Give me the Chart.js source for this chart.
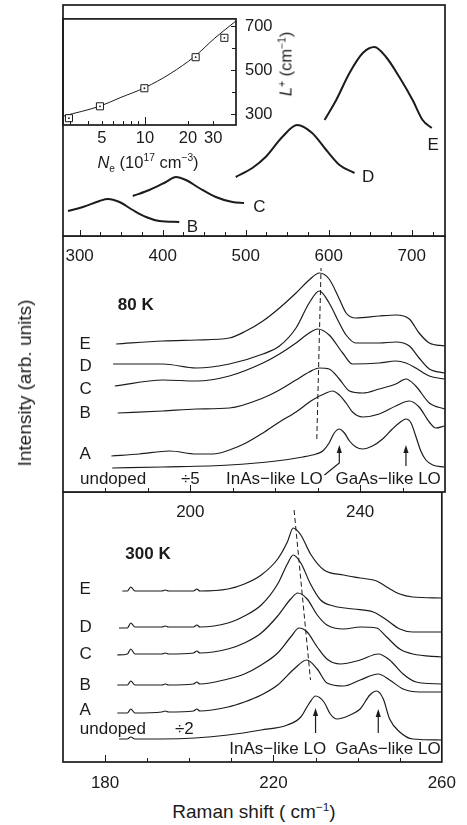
<!DOCTYPE html>
<html>
<head>
<meta charset="utf-8">
<script src="https://cdn.jsdelivr.net/npm/chart.js@4.4.1/dist/chart.umd.min.js"></script>
<style>
  html, body { margin: 0; padding: 0; background: #fff; }
  #fig { position: relative; width: 467px; height: 825px; overflow: hidden;
         font-family: "Liberation Sans", Arial, Helvetica, sans-serif; color: #1c1c1c; }
  #fig canvas { position: absolute; left: 0; }
  .lbl { position: absolute; white-space: nowrap; transform: translate(-50%, -50%); }
  .rot { transform: translate(-50%, -50%) rotate(-90deg); }
  sup, sub { font-size: 62%; line-height: 0; }
</style>
</head>
<body>
<div id="fig">
  <canvas id="topChart" width="467" height="270" style="top:0"></canvas>
  <canvas id="insetChart" width="467" height="170" style="top:0"></canvas>
  <canvas id="midChart" width="467" height="290" style="top:236px"></canvas>
  <canvas id="lowChart" width="467" height="300" style="top:492px"></canvas>
  <div class="lbl rot" style="left:25px; top:383px; font-size:19px;">Intensity (arb. units)</div>
  <div class="lbl" style="left:254px; top:812px; font-size:19px;">Raman shift ( cm<sup>−1</sup>)</div>
  <div class="lbl" style="left:148px; top:162px; font-size:16.5px;"><i>N</i><sub>e</sub> (10<sup>17</sup> cm<sup>−3</sup>)</div>
  <div class="lbl rot" style="left:286px; top:64px; font-size:16.5px;"><i>L</i><sup>+</sup> (cm<sup>−1</sup>)</div>
</div>
<script>
/* ---------- DATA ---------- */
// top panel: L+ coupled-mode bands (cm-1 vs arb. intensity)
const topTickLabels = [300, 400, 500, 600, 700];
const topShiftB = [286, 304, 324, 334, 348, 364, 380, 396, 420];
const topIntB = [25, 29, 35, 37, 34, 26, 19, 15, 14];
const topShiftC = [364, 384, 404, 416, 428, 444, 464, 484, 498];
const topIntC = [40, 46, 54, 59, 56, 48, 39, 34, 33];
const topShiftD = [488, 508, 524, 544, 562, 580, 597, 613, 631];
const topIntD = [59, 68, 79, 99, 111, 103, 86, 71, 63];
const topShiftE = [595, 609, 625, 641, 655, 669, 685, 701, 713, 724];
const topIntE = [116, 136, 163, 183, 189, 179, 159, 136, 116, 108];

// inset: L+ vs electron density
const insetTickLabels = [5, 10, 20, 30];
const insetYTickLabels = [300, 500, 700];
const insetDensity = [2.94, 4.84, 9.9, 22.6, 35.9];
const insetLplus = [283, 337, 419, 560, 648];
const fitDensity = [2.67, 4.9, 6.7, 10, 15, 22.3, 30.8, 41.3, 43.3];
const fitLplus = [292, 339, 376, 422, 485, 564, 647, 714, 725];

// 80 K spectra
const midTickLabels = [200, 240];
const shiftUnd80 = [181.6, 193.5, 209.2, 220.2, 226.5, 229.6, 231.2, 232.7, 233.9, 235.1, 236.3, 237.5, 239.0, 240.6, 242.9, 245.3, 247.6, 249.2, 250.8, 252.0, 253.1, 254.3, 255.5, 257.1, 259.9];
const intUnd80 = [24, 25, 27, 31, 35, 38, 41, 49, 59, 63, 59, 51, 45, 43, 46, 53, 63, 69, 73, 69, 56, 41, 32, 27, 25];
const shiftA80 = [181.4, 188.0, 195.1, 201.4, 205.3, 209.2, 213.1, 217.1, 221.0, 224.9, 228.8, 232.0, 233.5, 235.1, 236.7, 238.2, 240.6, 244.5, 248.4, 251.6, 253.9, 256.3, 257.8, 259.9];
const intA80 = [36, 38, 41, 38, 38, 42, 49, 59, 70, 80, 92, 99, 101, 97, 89, 80, 75, 78, 86, 91, 85, 70, 64, 66];
const shiftB80 = [182.9, 193.5, 201.4, 209.2, 217.1, 221.0, 224.9, 228.0, 230.4, 232.7, 235.1, 237.5, 240.6, 244.5, 248.4, 250.8, 253.1, 256.3, 259.9];
const intB80 = [79, 81, 83, 84, 94, 102, 112, 120, 124, 123, 113, 101, 99, 103, 108, 113, 106, 89, 83];
const shiftC80 = [182.2, 193.5, 201.4, 209.2, 217.1, 221.0, 224.9, 228.0, 230.0, 232.7, 235.9, 238.2, 244.5, 248.4, 250.8, 253.1, 256.3, 259.9];
const intC80 = [106, 112, 111, 116, 129, 138, 149, 159, 163, 157, 139, 128, 129, 131, 129, 124, 116, 113];
const shiftD80 = [181.8, 193.5, 201.4, 209.2, 217.1, 221.0, 224.9, 228.0, 230.4, 232.7, 235.1, 236.7, 239.0, 244.5, 248.4, 251.6, 253.9, 256.3, 259.9];
const intD80 = [128, 128, 124, 128, 138, 146, 164, 189, 201, 189, 169, 157, 149, 149, 150, 146, 134, 123, 119];
const shiftE80 = [182.5, 193.5, 201.4, 209.2, 213.1, 217.1, 221.0, 224.9, 228.0, 230.4, 232.7, 235.1, 236.7, 239.0, 244.5, 248.4, 251.6, 253.9, 256.3, 259.9];
const intE80 = [148, 151, 152, 154, 161, 171, 184, 199, 212, 219, 213, 193, 179, 174, 176, 177, 173, 159, 149, 146];
const guideShift80 = [229.8, 230.8];
const guideInt80 = [53, 224];

// 300 K spectra
const lowTickLabels = [180, 220, 260];
const shiftUnd300 = [183.3, 185.3, 186.1, 187.1, 193.5, 201.4, 209.2, 217.1, 223.3, 226.5, 228.4, 230.0, 232.0, 233.5, 235.1, 238.2, 240.6, 242.9, 244.5, 246.1, 247.6, 250.0, 253.1, 259.9];
const intUnd300 = [23, 23, 25, 23, 23, 24, 27, 32, 37, 45, 58, 66, 60, 48, 43, 47, 53, 67, 71, 63, 43, 30, 23, 22];
const shiftA300 = [182.9, 185.3, 186.1, 187.1, 193.5, 194.3, 195.1, 201.0, 201.8, 202.5, 209.2, 213.1, 217.1, 221.0, 224.9, 227.9, 230.4, 232.7, 236.7, 240.6, 244.9, 247.6, 250.8, 254.7, 259.9];
const intA300 = [49, 49, 53, 49, 50, 51, 50, 51, 53, 51, 55, 60, 67, 77, 93, 102, 93, 79, 76, 82, 88, 82, 73, 70, 70];
const shiftB300 = [182.9, 185.3, 186.1, 187.1, 193.5, 194.3, 195.1, 201.0, 201.8, 202.5, 209.2, 213.1, 217.1, 221.0, 224.1, 226.1, 228.0, 230.4, 232.7, 235.9, 240.6, 244.9, 247.6, 250.8, 253.9, 259.9];
const intB300 = [77, 77, 81, 77, 77, 78, 77, 78, 80, 78, 83, 88, 97, 109, 125, 134, 130, 115, 103, 98, 102, 108, 102, 88, 80, 78];
const shiftC300 = [182.9, 185.3, 186.1, 187.1, 193.5, 194.3, 195.1, 201.0, 201.8, 202.5, 209.2, 213.1, 217.1, 221.0, 224.1, 225.8, 228.0, 230.4, 232.7, 236.7, 240.6, 244.5, 246.9, 250.0, 253.1, 259.9];
const intC300 = [107, 108, 113, 108, 108, 109, 108, 109, 111, 109, 113, 119, 129, 146, 163, 169, 163, 147, 137, 133, 135, 134, 125, 113, 108, 105];
const shiftD300 = [183.3, 185.3, 186.1, 187.1, 193.5, 194.3, 195.1, 201.0, 201.8, 202.5, 209.2, 213.1, 217.1, 221.0, 223.3, 224.7, 226.5, 228.8, 231.2, 234.3, 239.0, 243.7, 246.9, 250.0, 253.1, 259.9];
const intD300 = [134, 134, 139, 135, 135, 136, 135, 135, 137, 135, 139, 146, 157, 178, 198, 207, 199, 178, 162, 156, 153, 150, 142, 133, 130, 130];
const shiftE300 = [184.1, 185.3, 186.1, 187.1, 193.5, 194.3, 195.1, 201.0, 201.8, 202.5, 209.2, 213.1, 217.1, 221.0, 223.3, 224.7, 226.5, 228.8, 232.0, 236.7, 240.6, 244.5, 246.9, 250.0, 253.1, 259.9];
const intE300 = [171, 171, 175, 171, 171, 172, 171, 171, 173, 171, 173, 178, 187, 203, 220, 234, 227, 208, 192, 187, 184, 181, 175, 168, 165, 164];
const guideShift300 = [224.9, 228.8];
const guideInt300 = [252, 82];

/* ---------- HELPERS ---------- */
const INK = '#1b1b1b';
const FONT = '"Liberation Sans", Arial, Helvetica, sans-serif';
const pts = (xs, ys) => xs.map((x, i) => ({ x, y: ys[i] }));
const range = (a, b, s) => { const out = []; for (let v = a; v <= b + 1e-9; v += s) out.push(v); return out; };

function trace(xs, ys, width) {
  return {
    data: pts(xs, ys), borderColor: INK, borderWidth: width || 1.2,
    pointRadius: 0, cubicInterpolationMode: 'monotone', fill: false
  };
}
function guide(xs, ys) {
  return { data: pts(xs, ys), borderColor: INK, borderWidth: 1, borderDash: [5, 3], pointRadius: 0, tension: 0 };
}

// frame + inward tick marks
const framePlugin = {
  id: 'frame',
  afterDatasetsDraw(chart) {
    const o = chart.options.plugins.frame;
    if (!o) return;
    const { ctx, chartArea: a } = chart;
    ctx.save();
    ctx.strokeStyle = INK;
    ctx.lineWidth = 1;
    (o.ticks || []).forEach(t => {
      const s = chart.scales[t.scale];
      t.values.forEach(v => {
        const len = t.major.includes(v) ? t.majorLen : t.minorLen;
        const p = Math.round(s.getPixelForValue(v)) + 0.5;
        ctx.beginPath();
        if (t.edge === 'bottom') { ctx.moveTo(p, a.bottom); ctx.lineTo(p, a.bottom - len); }
        else { ctx.moveTo(a.right, p); ctx.lineTo(a.right - len, p); }
        ctx.stroke();
      });
    });
    ctx.lineWidth = 1.7;
    ctx.strokeRect(a.left, a.top, a.right - a.left, a.bottom - a.top);
    ctx.restore();
  }
};

// in-panel text and arrows, placed in data units
const notesPlugin = {
  id: 'notes',
  afterDatasetsDraw(chart) {
    const o = chart.options.plugins.notes;
    if (!o) return;
    const { ctx, scales: { x, y } } = chart;
    ctx.save();
    ctx.fillStyle = INK;
    ctx.strokeStyle = INK;
    ctx.textBaseline = 'middle';
    ctx.textAlign = 'left';
    (o.labels || []).forEach(([vx, vy, text, bold]) => {
      ctx.font = (bold ? 'bold ' : '') + '17px ' + FONT;
      ctx.fillText(text, x.getPixelForValue(vx), y.getPixelForValue(vy));
    });
    (o.arrows || []).forEach(path => {
      const p = path.map(([vx, vy]) => [x.getPixelForValue(vx), y.getPixelForValue(vy)]);
      const [tx, ty] = p[p.length - 1];
      ctx.lineWidth = 1.2;
      ctx.beginPath();
      p.forEach(([X, Y], i) => i ? ctx.lineTo(X, i === p.length - 1 ? Y + 5 : Y) : ctx.moveTo(X, Y));
      ctx.stroke();
      ctx.beginPath();
      ctx.moveTo(tx, ty);
      ctx.lineTo(tx - 2.6, ty + 8);
      ctx.lineTo(tx + 2.6, ty + 8);
      ctx.closePath();
      ctx.fill();
    });
    ctx.restore();
  }
};

function xAxis(min, max, labels, height, padding, extra) {
  return Object.assign({
    type: 'linear', position: 'bottom', min, max,
    grid: { display: false, drawTicks: false },
    border: { display: false },
    ticks: { color: INK, font: { family: FONT, size: 17 }, padding, autoSkip: false, maxRotation: 0, callback: v => String(v) },
    afterBuildTicks: axis => { axis.ticks = labels.map(v => ({ value: v })); },
    afterFit: axis => { axis.height = height; }
  }, extra || {});
}

function baseOptions(padding, scales, plugins) {
  return {
    responsive: false, animation: false, events: [],
    layout: { padding },
    plugins: Object.assign({ legend: { display: false }, tooltip: { enabled: false } }, plugins),
    scales
  };
}

/* ---------- TOP PANEL ---------- */
new Chart(document.getElementById('topChart'), {
  type: 'line',
  data: { datasets: [
    trace(topShiftB, topIntB, 2), trace(topShiftC, topIntC, 2),
    trace(topShiftD, topIntD, 2), trace(topShiftE, topIntE, 2)
  ] },
  options: baseOptions({ left: 63, right: 22, top: 5, bottom: 0 }, {
    x: xAxis(280, 740, topTickLabels, 34, 10),
    y: { display: false, min: 0, max: 231 }
  }, {
    frame: { ticks: [{ scale: 'x', edge: 'bottom', values: range(300, 725, 25), major: topTickLabels, majorLen: 6, minorLen: 4 }] },
    notes: { labels: [[429, 9, 'B'], [509, 29, 'C'], [640, 59, 'D'], [719, 91, 'E']] }
  }),
  plugins: [framePlugin, notesPlugin]
});

/* ---------- INSET ---------- */
new Chart(document.getElementById('insetChart'), {
  type: 'line',
  data: { datasets: [
    { data: pts(insetDensity, insetLplus), showLine: false, pointStyle: 'circle', pointRadius: 0.9,
      pointBackgroundColor: INK, pointBorderWidth: 0, order: 0 },
    { data: pts(insetDensity, insetLplus), showLine: false, pointStyle: 'rect', pointRadius: 5,
      pointBackgroundColor: '#fff', pointBorderColor: INK, pointBorderWidth: 1, order: 1 },
    Object.assign(trace(fitDensity, fitLplus, 1), { order: 2 })
  ] },
  options: baseOptions({ left: 63, right: 0, top: 5, bottom: 0 }, {
    x: {
      type: 'logarithmic', position: 'bottom', min: 2.67, max: 43.3,
      grid: { display: false, drawTicks: false }, border: { display: false },
      ticks: { color: INK, font: { family: FONT, size: 16.5 }, padding: 4, autoSkip: false, maxRotation: 0, callback: v => String(v) },
      afterBuildTicks: axis => { axis.ticks = insetTickLabels.map(v => ({ value: v })); },
      afterFit: axis => { axis.height = 45; }
    },
    y: {
      type: 'linear', position: 'right', min: 252, max: 734,
      grid: { display: false, drawTicks: false }, border: { display: false },
      ticks: { color: INK, font: { family: FONT, size: 16.5 }, padding: 9, callback: v => String(v) },
      afterBuildTicks: axis => { axis.ticks = insetYTickLabels.map(v => ({ value: v })); },
      afterFit: axis => { axis.width = 231; }
    }
  }, {
    frame: { ticks: [
      { scale: 'x', edge: 'bottom', values: [3, 4, 5, 6, 7, 8, 9, 10, 20, 30], major: [10], majorLen: 8, minorLen: 4 },
      { scale: 'y', edge: 'right', values: [300, 400, 500, 600, 700], major: insetYTickLabels, majorLen: 5, minorLen: 4 }
    ] }
  }),
  plugins: [framePlugin]
});

/* ---------- 80 K PANEL ---------- */
new Chart(document.getElementById('midChart'), {
  type: 'line',
  data: { datasets: [
    trace(shiftUnd80, intUnd80), trace(shiftA80, intA80), trace(shiftB80, intB80),
    trace(shiftC80, intC80), trace(shiftD80, intD80), trace(shiftE80, intE80),
    guide(guideShift80, guideInt80)
  ] },
  options: baseOptions({ left: 63, right: 22, top: 0, bottom: 0 }, {
    x: xAxis(170, 260, midTickLabels, 34, 10),
    y: { display: false, min: 0, max: 256 }
  }, {
    frame: { ticks: [{ scale: 'x', edge: 'bottom', values: range(180, 250, 10), major: midTickLabels, majorLen: 7, minorLen: 4 }] },
    notes: {
      labels: [
        [182.9, 187, '80 K', true],
        [173.9, 148, 'E'], [173.9, 126, 'D'], [173.9, 103, 'C'], [173.9, 79, 'B'], [173.9, 38, 'A'],
        [174, 13, 'undoped'], [197.8, 13, '÷5'], [208.4, 13, 'InAs−like LO'], [234.2, 13, 'GaAs−like LO']
      ],
      arrows: [
        [[231.6, 17], [235.1, 29], [235.1, 47]],
        [[250.8, 26], [250.8, 47]]
      ]
    }
  }),
  plugins: [framePlugin, notesPlugin]
});

/* ---------- 300 K PANEL ---------- */
new Chart(document.getElementById('lowChart'), {
  type: 'line',
  data: { datasets: [
    trace(shiftUnd300, intUnd300), trace(shiftA300, intA300), trace(shiftB300, intB300),
    trace(shiftC300, intC300), trace(shiftD300, intD300), trace(shiftE300, intE300),
    guide(guideShift300, guideInt300)
  ] },
  options: baseOptions({ left: 63, right: 22, top: 0, bottom: 0 }, {
    x: xAxis(170, 260, lowTickLabels, 30, 11),
    y: { display: false, min: 0, max: 270 }
  }, {
    frame: { ticks: [{ scale: 'x', edge: 'bottom', values: range(180, 250, 10), major: lowTickLabels, majorLen: 7, minorLen: 4 }] },
    notes: {
      labels: [
        [184.8, 208, '300 K', true],
        [173.9, 173, 'E'], [173.9, 135, 'D'], [173.9, 108, 'C'], [173.9, 77, 'B'], [173.9, 52, 'A'],
        [174, 33, 'undoped'], [196.6, 33, '÷2'], [209.5, 13, 'InAs−like LO'], [234.7, 13, 'GaAs−like LO']
      ],
      arrows: [
        [[230.0, 29], [230.0, 54]],
        [[244.9, 29], [244.9, 53]]
      ]
    }
  }),
  plugins: [framePlugin, notesPlugin]
});
</script>
</body>
</html>
